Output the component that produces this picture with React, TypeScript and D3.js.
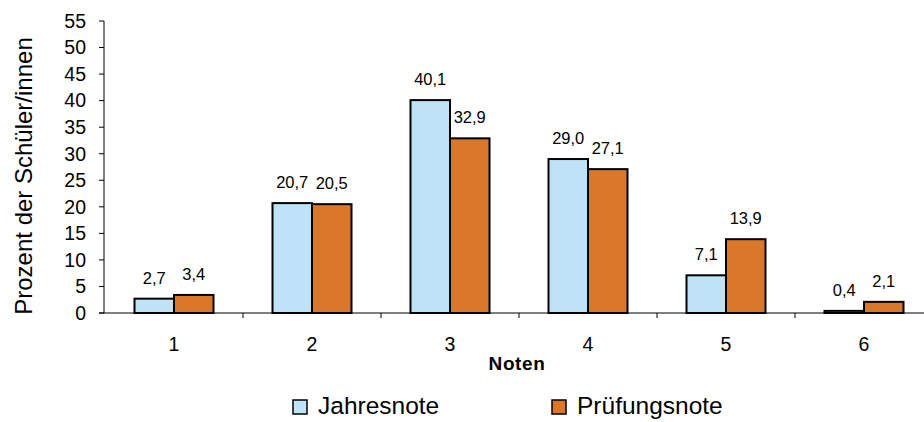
import React from "react";
import * as d3 from "d3";

// Notenverteilung: Jahresnote vs. Prüfungsnote (Prozent der Schüler/innen)
const categories = ["1", "2", "3", "4", "5", "6"];
const seriesNames = ["Jahresnote", "Prüfungsnote"];
const jahresnote = [2.7, 20.7, 40.1, 29.0, 7.1, 0.4];
const pruefungsnote = [3.4, 20.5, 32.9, 27.1, 13.9, 2.1];
const yTicks = [0, 5, 10, 15, 20, 25, 30, 35, 40, 45, 50, 55];
const colors = ["#BEE3F6", "#D9782A"];

const W = 924;
const H = 422;
const FONT = "'Liberation Sans', Arial, sans-serif";

const fmt = (v: number) => v.toFixed(1).replace(".", ",");

export default function App() {
  const y = d3.scaleLinear().domain([0, 55]).range([313, 21]);
  const x0 = d3.scaleBand<string>().domain(categories).range([105, 933]);
  const x1 = d3
    .scaleBand<string>()
    .domain(seriesNames)
    .range([29.5, x0.bandwidth() - 29.5]);

  const values = [jahresnote, pruefungsnote];
  const axisLeft = 104;
  const axisBottom = y(0);

  return (
    <svg
      width={W}
      height={H}
      style={{ position: "absolute", left: 0, top: 0, background: "#fff" }}
      fontFamily={FONT}
    >
      <rect width={W} height={H} fill="#fff" />

      {/* bars */}
      {categories.map((c, i) => (
        <g key={c} transform={`translate(${x0(c)},0)`}>
          {seriesNames.map((s, k) => {
            const v = values[k][i];
            const bx = x1(s)!;
            const bw = x1.bandwidth();
            return (
              <g key={s}>
                <rect
                  x={bx}
                  y={y(v)}
                  width={bw}
                  height={axisBottom - y(v)}
                  fill={colors[k]}
                  stroke="#000"
                  strokeWidth={2}
                />
                <text
                  x={bx + bw / 2}
                  y={y(v) - 15}
                  textAnchor="middle"
                  fontSize={16.5}
                  fill="#000"
                >
                  {fmt(v)}
                </text>
              </g>
            );
          })}
        </g>
      ))}

      {/* y axis */}
      <line x1={axisLeft} x2={axisLeft} y1={y(55)} y2={axisBottom} stroke="#000" strokeWidth={1} />
      {yTicks.map((t) => (
        <g key={t}>
          <line x1={axisLeft - 5} x2={axisLeft} y1={y(t)} y2={y(t)} stroke="#000" />
          <text
            x={86}
            y={y(t)}
            dy="0.35em"
            textAnchor="end"
            fontSize={19.5}
            fill="#000"
          >
            {t}
          </text>
        </g>
      ))}

      {/* x axis */}
      <line x1={axisLeft - 5} x2={W} y1={axisBottom} y2={axisBottom} stroke="#000" strokeWidth={1} />
      {categories.slice(1).map((c) => (
        <line
          key={c}
          x1={x0(c)}
          x2={x0(c)}
          y1={axisBottom}
          y2={axisBottom + 5}
          stroke="#000"
        />
      ))}
      {categories.map((c) => (
        <text
          key={c}
          x={x0(c)! + x0.bandwidth() / 2}
          y={351}
          textAnchor="middle"
          fontSize={19.5}
          fill="#000"
        >
          {c}
        </text>
      ))}

      {/* axis titles */}
      <text
        x={517}
        y={370}
        textAnchor="middle"
        fontSize={19}
        fontWeight="bold"
        letterSpacing={0.6}
        fill="#000"
      >
        Noten
      </text>
      <text
        transform={`translate(32,176) rotate(-90)`}
        textAnchor="middle"
        fontSize={24}
        fill="#000"
      >
        Prozent der Schüler/innen
      </text>

      {/* legend */}
      {seriesNames.map((s, k) => {
        const lx = k === 0 ? 293 : 552;
        return (
          <g key={s}>
            <rect x={lx} y={400} width={14} height={14} fill={colors[k]} stroke="#000" strokeWidth={1.5} />
            <text x={lx + 25} y={414} fontSize={24.5} fill="#000">
              {s}
            </text>
          </g>
        );
      })}
    </svg>
  );
}
